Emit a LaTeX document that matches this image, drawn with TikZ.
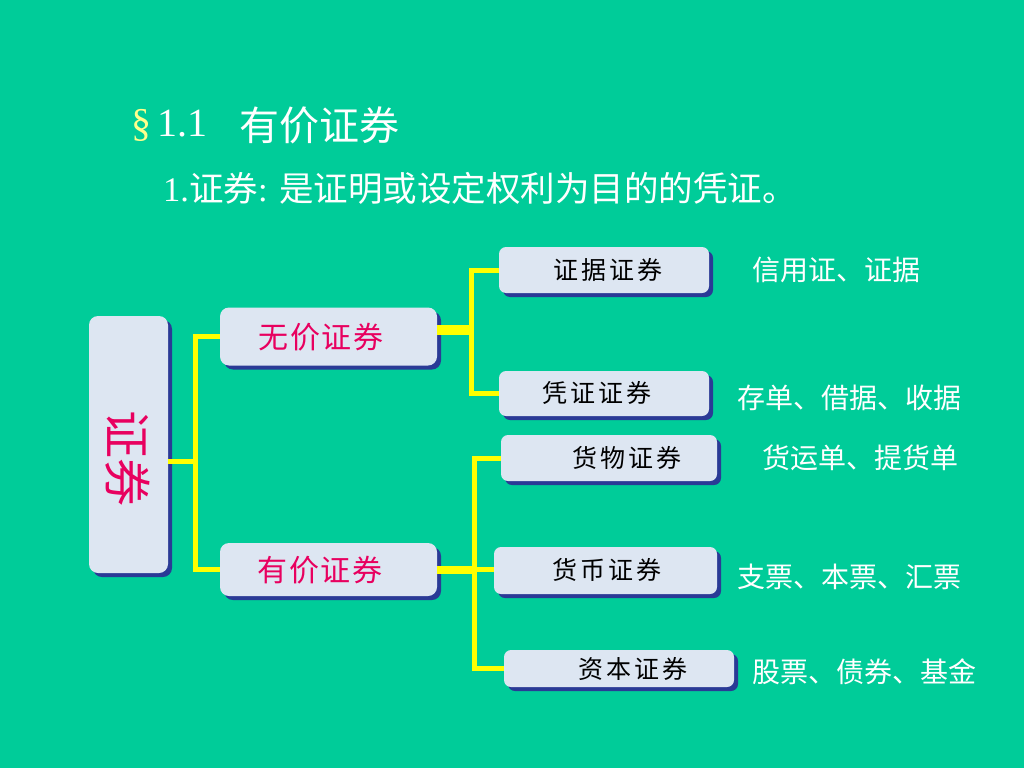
\documentclass[tikz,border=0pt]{standalone}
\usepackage{fontspec}
\setmainfont{Liberation Serif}
\newfontfamily\cjk{Noto Sans CJK SC}
\newfontfamily\cjksp{Noto Sans CJK SC}[LetterSpace=12]
\newfontfamily\cjkmsp{Noto Sans CJK SC}[LetterSpace=5]
\usetikzlibrary{shadows}
\definecolor{bg}{RGB}{0,204,153}
\definecolor{boxfill}{RGB}{221,230,242}
\definecolor{shadowblue}{RGB}{42,58,150}
\definecolor{mag}{RGB}{232,0,95}
\definecolor{lineyellow}{RGB}{255,255,0}
\definecolor{sect}{RGB}{255,255,140}
\begin{document}
\begin{tikzpicture}[x=1pt,y=-1pt,
  box/.style={draw=none, fill=boxfill, inner sep=0pt,
    drop shadow={shadow xshift=4pt, shadow yshift=-4pt, fill=shadowblue, opacity=1}},
  bigbox/.style={box, rounded corners=9pt},
  smallbox/.style={box, rounded corners=7pt},
  conn/.style={draw=lineyellow, line width=5pt},
  bar/.style={draw=lineyellow, line width=10pt},
  maglbl/.style={inner sep=0pt, text=mag, font=\cjkmsp\fontsize{30}{34}\selectfont},
  boxlbl/.style={inner sep=0pt, text=black, font=\cjksp\fontsize{25}{30}\selectfont},
  side/.style={inner sep=0pt, anchor=west, text=white, font=\cjk\fontsize{28}{32}\selectfont},
  titletxt/.style={inner sep=0pt, anchor=west, text=white}
]
\fill[bg] (0,0) rectangle (1024,768);
\useasboundingbox (0,0) rectangle (1024,768);

% title
\node[titletxt, font=\fontsize{40}{44}\selectfont] (t1) at (131,125) {{\color{sect}\S}\,1.1};
\node[titletxt, font=\cjk\fontsize{40}{44}\selectfont] (t2) at (239,125) {有价证券};
\node[titletxt, font=\fontsize{34.5}{38}\selectfont] (t3) at (163,188) {1.{\cjk 证券}: {\cjk 是证明或设定权利为目的的凭证。}};

% boxes
\node[bigbox, minimum width=79pt, minimum height=257pt] (zq) at (128.5,444.5) {};
\node[bigbox, minimum width=217pt, minimum height=58pt] (wj) at (328.5,336.5) {};
\node[bigbox, minimum width=217pt, minimum height=53pt] (yj) at (328.5,569.5) {};
\node[smallbox, minimum width=210pt, minimum height=46pt] (zj) at (604,270) {};
\node[smallbox, minimum width=210pt, minimum height=45pt] (pz) at (604,393.5) {};
\node[smallbox, minimum width=216pt, minimum height=46pt] (hw) at (609,458) {};
\node[smallbox, minimum width=223pt, minimum height=47pt] (hb) at (605.5,570.5) {};
\node[smallbox, minimum width=230pt, minimum height=37pt] (zb) at (619,668.5) {};

% box labels
\node[maglbl, rotate=-90, font=\cjk\fontsize{48}{52}\selectfont] (zqt) at (128,458) {证券};
\node[maglbl] (wjt) at (321,337) {无价证券};
\node[maglbl] (yjt) at (320,570) {有价证券};
\node[boxlbl] (zjt) at (608,270) {证据证券};
\node[boxlbl] (pzt) at (597,393) {凭证证券};
\node[boxlbl] (hwt) at (627,458) {货物证券};
\node[boxlbl] (hbt) at (607,570) {货币证券};
\node[boxlbl] (zbt) at (633,669) {资本证券};

% side labels
\node[side] (s1) at (752,270) {信用证、证据};
\node[side] (s2) at (737,398) {存单、借据、收据};
\node[side] (s3) at (762,458) {货运单、提货单};
\node[side] (s4) at (737,577) {支票、本票、汇票};
\node[side] (s5) at (752,672) {股票、债券、基金};

% connectors
\coordinate (j1) at (195,461);
\coordinate (j2) at (471,330);
\coordinate (j3) at (474,569.5);
\draw[conn] (zq.east |- j1) -- (j1);
\draw[conn] (j1) |- (wj.west);
\draw[conn] (j1) |- (yj.west);
\draw[bar] (wj.east |- j2) -- (j2);
\draw[conn] (j2) |- (zj.west);
\draw[conn] (j2) |- (pz.west);
\draw[bar, line width=8pt] (yj.east |- j3) -- (j3);
\draw[conn] (j3) |- (hw.west);
\draw[conn] (j3) -- (hb.west |- j3);
\draw[conn] (j3) |- (zb.west);
\end{tikzpicture}
\end{document}
